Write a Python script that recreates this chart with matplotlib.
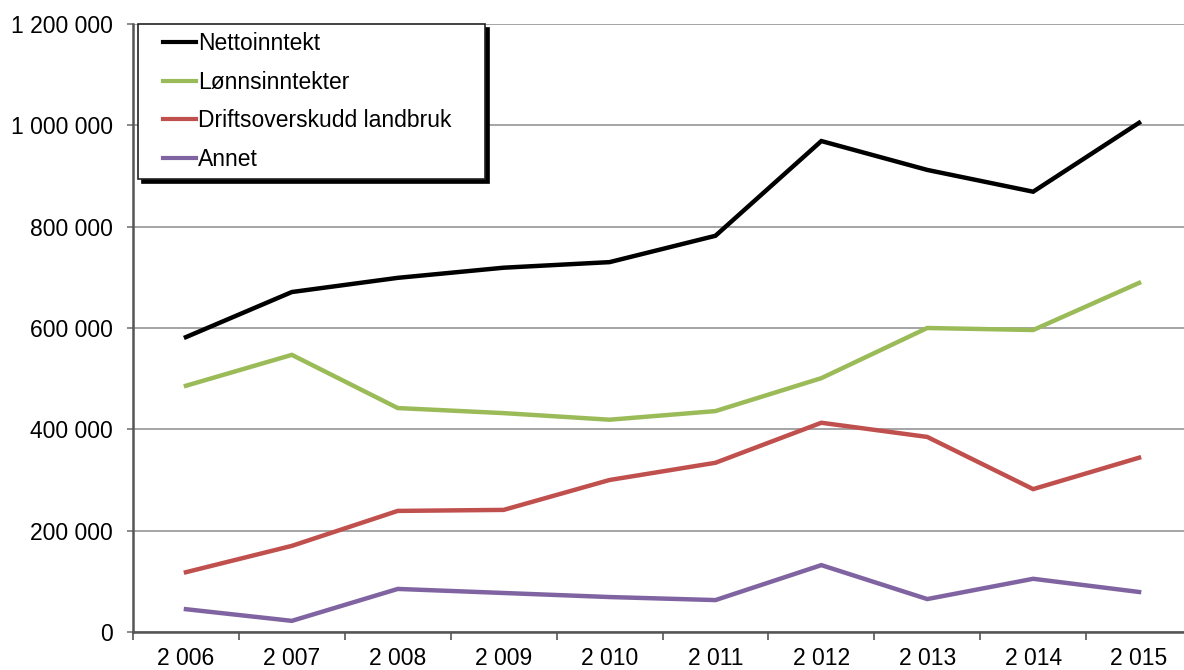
import matplotlib.pyplot as plt
from matplotlib.legend_handler import HandlerLine2D
import numpy as np

# Data
years = ['2 006', '2 007', '2 008', '2 009', '2 010', '2 011', '2 012', '2 013', '2 014', '2 015']
nettoinntekt = [582000, 671000, 699000, 719000, 730000, 782000, 969000, 912000, 869000, 1005000]
lonnsinntekter = [486000, 547000, 442000, 432000, 419000, 436000, 501000, 600000, 596000, 689000]
driftsoverskudd = [118000, 170000, 239000, 241000, 300000, 334000, 413000, 385000, 282000, 344000]
annet = [45000, 22000, 85000, 77000, 69000, 63000, 132000, 65000, 105000, 79000]

series = [
    ('Nettoinntekt', nettoinntekt, '#000000'),
    ('Lønnsinntekter', lonnsinntekter, '#9BBB59'),
    ('Driftsoverskudd landbruk', driftsoverskudd, '#C0504D'),
    ('Annet', annet, '#8064A2'),
]

plt.rcParams['font.family'] = ['Liberation Sans', 'DejaVu Sans']
FS = 16.5

W, H = 1184, 670
fig = plt.figure(figsize=(W / 100, H / 100), dpi=100)
# axes runs past the right edge of the picture, as in the original crop
ax = fig.add_axes([133 / W, 1 - 632 / H, (1192 - 133) / W, (632 - 24) / H])

x = np.arange(len(years))
for name, vals, col in series:
    ax.plot(x, vals, color=col, lw=3.2, label=name, solid_joinstyle='miter')

ax.set_xlim(-0.5, len(years) - 0.5)
ax.set_ylim(0, 1200000)
ax.set_yticks(np.arange(0, 1200001, 200000))
ax.set_yticklabels([f'{v:,}'.replace(',', ' ') for v in range(0, 1200001, 200000)])
ax.yaxis.grid(True, color='#8c8c8c', lw=1.1)
ax.set_axisbelow(True)

ax.set_xticks(x)
ax.set_xticklabels(years)
ax.set_xticks(np.arange(-0.5, len(years)), minor=True)
ax.tick_params(axis='x', which='major', length=0, pad=11, labelsize=FS)
ax.tick_params(axis='x', which='minor', length=6, width=1.2, color='#555555')
ax.tick_params(axis='y', length=4.5, width=1.2, color='#777777', pad=10, labelsize=FS)

for s in ['top', 'right']:
    ax.spines[s].set_visible(False)
ax.spines['left'].set_color('#555555')
ax.spines['left'].set_linewidth(1.8)
ax.spines['bottom'].set_color('#555555')
ax.spines['bottom'].set_linewidth(1.8)

# legend box: x 138..485, y 24..180 in pixels
leg = ax.legend(loc='upper left',
                bbox_to_anchor=(138 / W, 1 - 180 / H, (485 - 138) / W, (180 - 24) / H),
                bbox_transform=fig.transFigure, mode='expand', borderaxespad=0,
                fontsize=FS, handlelength=2.17, handletextpad=0.1,
                labelspacing=0.68, borderpad=0.35, fancybox=False,
                handler_map={plt.Line2D: HandlerLine2D(xpad=0.74)},
                shadow={'color': 'black', 'alpha': 1, 'ox': 3, 'oy': -3})
leg.get_frame().set_edgecolor('#222222')
leg.get_frame().set_linewidth(1.2)
leg.get_frame().set_alpha(1)
for h in leg.get_lines():
    h.set_linewidth(3)

fig.savefig('out.png', dpi=100)
